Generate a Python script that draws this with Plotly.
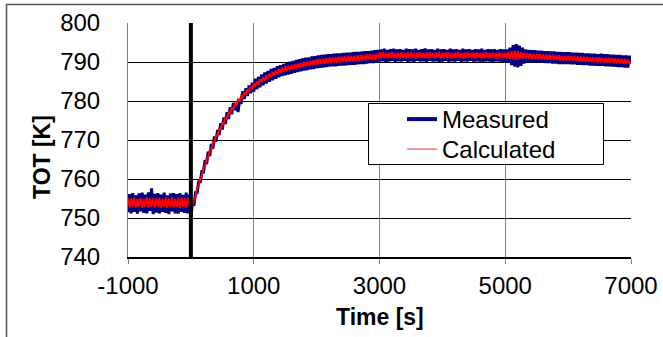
import plotly.graph_objects as go

t_start = -1000
t_step = 25

measured = [
    # -1000 .. -525
    751.5, 756.1, 751.2, 756.4, 751.6, 755.8, 751.1, 756.3, 751.7, 756.5,
    751.3, 756.0, 751.2, 756.6, 751.8, 757.6, 751.0, 756.2, 751.4, 756.4,
    # -500 .. -25
    751.2, 756.0, 751.6, 756.5, 751.3, 755.8, 751.0, 756.3, 751.7, 756.4,
    751.2, 756.1, 751.1, 756.4, 751.6, 755.9, 751.3, 756.5, 751.2, 756.0,
    # 0 .. 475
    750.3, 753.7, 753.2, 756.8, 756.2, 759.6, 759.0, 762.2, 761.5, 764.8,
    763.8, 767.0, 765.9, 769.0, 767.8, 770.9, 769.6, 772.6, 771.3, 774.3,
    # 500 .. 975
    772.7, 775.8, 774.1, 777.1, 775.4, 778.4, 776.6, 779.5, 777.7, 779.1,
    777.2, 780.1, 779.3, 782.5, 780.5, 783.3, 781.3, 784.0, 782.0, 784.7,
    # 1000 .. 1475
    782.4, 785.7, 783.0, 786.2, 783.5, 786.8, 784.0, 787.3, 784.5, 787.7,
    784.9, 788.2, 785.3, 788.5, 785.7, 788.9, 786.1, 789.2, 786.4, 789.5,
    # 1500 .. 1975
    786.6, 789.9, 786.8, 790.1, 787.0, 790.3, 787.2, 790.5, 787.4, 790.7,
    787.6, 790.9, 787.8, 791.1, 787.9, 791.2, 788.1, 791.4, 788.2, 791.5,
    # 2000 .. 2475
    788.4, 791.7, 788.5, 791.8, 788.6, 791.9, 788.7, 792.0, 788.8, 792.0,
    788.9, 792.1, 788.9, 792.2, 789.0, 792.2, 789.1, 792.3, 789.1, 792.4,
    # 2500 .. 2975
    789.2, 792.4, 789.3, 792.5, 789.3, 792.6, 789.4, 792.6, 789.5, 792.7,
    789.5, 792.8, 789.6, 792.8, 789.7, 792.9, 789.7, 793.0, 789.8, 793.1,
    # 3000 .. 3475
    790.1, 793.2, 790.2, 793.4, 790.0, 793.1, 790.1, 793.3, 790.3, 793.4,
    790.0, 793.2, 790.2, 793.3, 790.1, 793.1, 790.3, 793.4, 790.0, 793.3,
    # 3500 .. 3975
    790.2, 793.2, 790.0, 793.4, 790.3, 793.1, 790.1, 793.3, 790.2, 793.5,
    790.0, 793.2, 790.3, 793.3, 790.1, 793.1, 790.2, 793.4, 790.0, 793.2,
    # 4000 .. 4475
    790.1, 793.3, 790.3, 793.1, 790.0, 793.4, 790.2, 793.2, 790.1, 793.3,
    790.3, 793.1, 790.0, 793.4, 790.2, 793.2, 790.1, 793.3, 790.3, 793.1,
    # 4500 .. 4975
    790.0, 793.3, 790.2, 793.2, 790.1, 793.4, 790.0, 793.1, 790.2, 793.3,
    790.1, 793.2, 790.0, 793.3, 790.2, 793.1, 790.1, 793.3, 790.0, 793.2,
    # 5000 .. 5475
    790.0, 793.2, 789.8, 793.7, 789.2, 794.3, 788.8, 794.6, 788.6, 794.2,
    789.0, 793.7, 789.6, 793.2, 789.9, 793.1, 789.8, 793.0, 789.9, 793.0,
    # 5500 .. 5975
    789.9, 792.9, 789.8, 792.9, 789.8, 792.8, 789.7, 792.8, 789.7, 792.7,
    789.6, 792.7, 789.6, 792.6, 789.5, 792.6, 789.5, 792.5, 789.5, 792.5,
    # 6000 .. 6475
    789.5, 792.5, 789.4, 792.4, 789.4, 792.4, 789.3, 792.3, 789.3, 792.3,
    789.2, 792.2, 789.2, 792.2, 789.1, 792.1, 789.1, 792.1, 789.0, 792.0,
    # 6500 .. 6975
    789.0, 792.1, 789.0, 792.0, 788.9, 792.0, 788.9, 791.9, 788.8, 791.9,
    788.8, 791.8, 788.7, 791.8, 788.7, 791.7, 788.6, 791.7, 788.6, 791.6,
    # 7000
    790.0,
]

calculated = [
    # -1000 .. -525
    755.0, 752.8, 755.1, 752.9, 755.2, 752.7, 754.9, 752.9, 755.1, 752.6,
    754.9, 752.8, 755.3, 752.7, 755.0, 752.9, 755.1, 752.7, 755.0, 752.8,
    # -500 .. -25
    755.1, 752.7, 754.9, 752.9, 755.2, 752.6, 755.0, 752.8, 755.2, 752.7,
    754.9, 752.9, 755.1, 752.6, 755.2, 752.8, 755.0, 752.7, 755.1, 753.0,
    # 0 .. 475
    751.8, 753.2, 754.8, 755.4, 757.8, 758.2, 760.4, 760.8, 763.0, 763.3,
    765.3, 765.5, 767.4, 767.5, 769.4, 769.4, 771.2, 771.1, 772.9, 772.8,
    # 500 .. 975
    774.4, 774.2, 775.8, 775.5, 777.1, 776.8, 778.3, 777.9, 779.4, 779.0,
    780.4, 780.0, 781.3, 780.9, 782.2, 781.7, 783.0, 782.4, 783.7, 783.1,
    # 1000 .. 1475
    784.5, 783.7, 785.1, 784.2, 785.6, 784.8, 786.1, 785.3, 786.6, 785.7,
    787.0, 786.2, 787.4, 786.5, 787.8, 786.9, 788.2, 787.2, 788.5, 787.5,
    # 1500 .. 1975
    788.9, 787.7, 789.0, 787.9, 789.2, 788.1, 789.4, 788.3, 789.6, 788.5,
    789.8, 788.7, 790.0, 788.9, 790.1, 789.0, 790.3, 789.2, 790.4, 789.3,
    # 2000 .. 2475
    790.7, 789.4, 790.8, 789.5, 790.8, 789.6, 791.0, 789.7, 791.1, 789.7,
    791.2, 789.8, 791.2, 789.9, 791.3, 789.9, 791.4, 790.0, 791.4, 790.1,
    # 2500 .. 2975
    791.5, 790.1, 791.6, 790.2, 791.6, 790.2, 791.7, 790.3, 791.8, 790.4,
    791.8, 790.5, 791.9, 790.5, 792.0, 790.6, 792.0, 790.6, 792.1, 790.8,
    # 3000 .. 3475
    792.4, 791.0, 792.5, 791.1, 792.3, 790.9, 792.4, 791.0, 792.5, 791.1,
    792.3, 791.0, 792.4, 790.9, 792.5, 791.1, 792.3, 791.0, 792.4, 791.0,
    # 3500 .. 3975
    792.5, 791.1, 792.3, 790.9, 792.4, 791.0, 792.5, 791.1, 792.3, 791.0,
    792.4, 790.9, 792.5, 791.1, 792.3, 791.0, 792.4, 791.1, 792.5, 790.9,
    # 4000 .. 4475
    792.3, 791.0, 792.4, 791.1, 792.5, 790.9, 792.3, 791.0, 792.4, 791.1,
    792.5, 791.0, 792.3, 790.9, 792.4, 791.0, 792.5, 791.1, 792.3, 791.0,
    # 4500 .. 4975
    792.4, 790.9, 792.5, 791.1, 792.3, 791.0, 792.4, 790.9, 792.5, 791.0,
    792.3, 791.1, 792.4, 791.0, 792.3, 790.9, 792.4, 791.0, 792.3, 791.0,
    # 5000 .. 5475
    792.4, 790.9, 792.6, 790.8, 792.8, 790.6, 792.9, 790.5, 792.8, 790.7,
    792.5, 790.9, 792.3, 790.9, 792.2, 790.9, 792.2, 790.8, 792.1, 790.8,
    # 5500 .. 5975
    792.0, 790.8, 792.0, 790.7, 791.9, 790.7, 791.9, 790.6, 791.8, 790.6,
    791.8, 790.5, 791.7, 790.5, 791.7, 790.4, 791.6, 790.4, 791.6, 790.4,
    # 6000 .. 6475
    791.6, 790.4, 791.5, 790.3, 791.5, 790.3, 791.4, 790.2, 791.4, 790.2,
    791.3, 790.1, 791.3, 790.1, 791.2, 790.0, 791.2, 790.0, 791.2, 789.9,
    # 6500 .. 6975
    791.2, 789.9, 791.1, 789.9, 791.1, 789.8, 791.0, 789.8, 791.0, 789.7,
    790.9, 789.7, 790.9, 789.6, 790.8, 789.6, 790.8, 789.5, 790.7, 789.5,
    # 7000
    790.1,
]

time_s = [t_start + i * t_step for i in range(len(measured))]

x_ticks = [-1000, 1000, 3000, 5000, 7000]
x_tick_labels = ["-1000", "1000", "3000", "5000", "7000"]
y_ticks = [740, 750, 760, 770, 780, 790, 800]
step_time = [0, 0]
step_range = [740, 800]

FONT = "Liberation Sans, Arial, sans-serif"
NAVY = "#000080"
RED = "#FF0000"

fig = go.Figure()
fig.add_trace(go.Scatter(
    x=time_s, y=measured, mode="lines", name="Measured", showlegend=False,
    line=dict(color=NAVY, width=3),
))
fig.add_trace(go.Scatter(
    x=time_s, y=calculated, mode="lines", name="Calculated", showlegend=False,
    line=dict(color=RED, width=2),
))
fig.add_trace(go.Scatter(
    x=step_time, y=step_range, mode="lines", showlegend=False,
    line=dict(color="black", width=4),
))
# legend entries
fig.add_trace(go.Scatter(
    x=[None], y=[None], mode="lines", name="Measured", legend="legend",
    line=dict(color=NAVY, width=4),
))
fig.add_trace(go.Scatter(
    x=[None], y=[None], mode="lines", name="Calculated", legend="legend2",
    line=dict(color="#FF7070", width=1.5),
))

def px_x(p):
    return (p - 128) / 503

def px_y(p):
    return (257 - p) / 234

legend_common = dict(
    xanchor="left", yanchor="top",
    bgcolor="rgba(0,0,0,0)", borderwidth=0,
    font=dict(family=FONT, size=24, color="black"),
    itemwidth=30, tracegroupgap=0,
)

fig.update_layout(
    width=663, height=337,
    margin=dict(l=128, r=32, t=23, b=80),
    paper_bgcolor="white", plot_bgcolor="white",
    font=dict(family=FONT, size=24, color="black"),
    showlegend=True,
    legend=dict(x=px_x(402), y=px_y(97), **legend_common),
    legend2=dict(x=px_x(402), y=px_y(127), **legend_common),
    xaxis=dict(
        range=[-1000, 7000], tickvals=x_ticks, ticktext=x_tick_labels,
        showgrid=True, gridcolor="#808080", gridwidth=1,
        showline=True, linecolor="black", linewidth=2,
        ticks="outside", ticklen=5, tickcolor="#808080",
        ticklabelstandoff=1,
        zeroline=False, automargin=False,
        tickfont=dict(family=FONT, size=24),
    ),
    yaxis=dict(
        range=[740, 800], tickvals=y_ticks,
        showgrid=True, gridcolor="black", gridwidth=1,
        showline=True, linecolor="#808080", linewidth=1,
        ticks="", ticklabelstandoff=22,
        zeroline=False, automargin=False,
        tickfont=dict(family=FONT, size=24),
    ),
    annotations=[
        dict(text="<b>Time [s]</b>", xref="paper", yref="paper",
             x=0.5, y=px_y(317), xanchor="center", yanchor="middle",
             showarrow=False, font=dict(family=FONT, size=23)),
        dict(text="<b>TOT [K]</b>", xref="paper", yref="paper",
             x=px_x(42), y=px_y(157), xanchor="center", yanchor="middle",
             textangle=-90, showarrow=False, font=dict(family=FONT, size=23)),
    ],
    shapes=[
        dict(type="rect", xref="paper", yref="paper",
             x0=px_x(6.5), x1=px_x(680), y0=px_y(350), y1=px_y(4.5),
             line=dict(color="#505050", width=1.5), layer="below"),
        dict(type="rect", xref="paper", yref="paper",
             x0=px_x(368.5), x1=px_x(603.5), y0=px_y(164.5), y1=px_y(103.5),
             fillcolor="white", line=dict(color="black", width=1), layer="above"),
    ],
)

fig.write_html(
    "out.html",
    config={"displayModeBar": False},
    post_script="document.body.style.margin='0px';",
)
